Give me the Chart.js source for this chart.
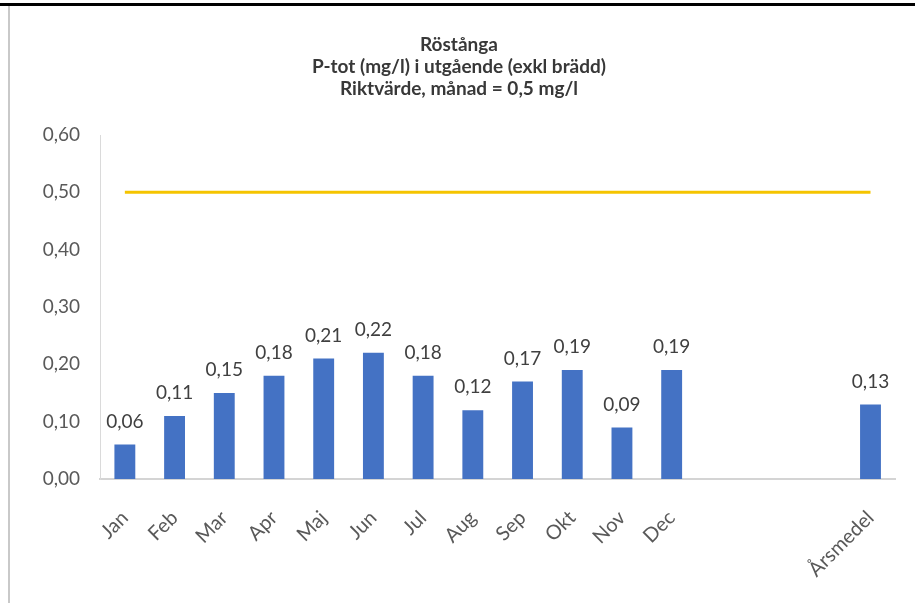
<!DOCTYPE html>
<html lang="sv">
<head>
<meta charset="utf-8">
<title>Röstånga – P-tot i utgående</title>
<script src="https://cdn.jsdelivr.net/npm/chart.js@4/dist/chart.umd.min.js"></script>
<style>
  html, body { margin: 0; padding: 0; background: #fff; }
  #wrap { position: relative; width: 915px; height: 603px; overflow: hidden; }
  #frameTop { position: absolute; left: 0; top: 3px; width: 915px; height: 3px; background: #000; }
  #frameLeft { position: absolute; left: 8px; top: 6px; width: 2px; height: 597px; background: #c9c9c9; }
  canvas { position: absolute; left: 0; top: 0; }
</style>
</head>
<body>
<div id="wrap">
  <canvas id="chart" width="915" height="603"></canvas>
  <div id="frameTop"></div>
  <div id="frameLeft"></div>
</div>
<script>
// Months, three empty slots, then the yearly mean
const categories = ['Jan', 'Feb', 'Mar', 'Apr', 'Maj', 'Jun', 'Jul', 'Aug', 'Sep', 'Okt', 'Nov', 'Dec', '', '', '', 'Årsmedel'];

// Monthly P-tot (mg/l) in outgoing water, plus the annual mean
const ptotValues = [0.06, 0.11, 0.15, 0.18, 0.21, 0.22, 0.18, 0.12, 0.17, 0.19, 0.09, 0.19, null, null, null, 0.13];

// Guideline value per month (0,5 mg/l)
const guideline = [0.5, 0.5, 0.5, 0.5, 0.5, 0.5, 0.5, 0.5, 0.5, 0.5, 0.5, 0.5, 0.5, 0.5, 0.5, 0.5];

// Y axis ticks
const yTicks = [0, 0.1, 0.2, 0.3, 0.4, 0.5, 0.6];

const titleLines = ['Röstånga', 'P-tot (mg/l) i utgående (exkl brädd)', 'Riktvärde, månad = 0,5 mg/l'];

const fmt = v => v.toFixed(2).replace('.', ',');

const FONT = 'Lato, "Liberation Sans", sans-serif';

// Writes the value above every bar
const barValueLabels = {
  id: 'barValueLabels',
  afterDatasetsDraw(chart) {
    const ctx = chart.ctx;
    const meta = chart.getDatasetMeta(0);
    ctx.save();
    ctx.font = '19px ' + FONT;
    ctx.fillStyle = '#404040';
    ctx.textAlign = 'center';
    ctx.textBaseline = 'middle';
    meta.data.forEach((el, i) => {
      const v = ptotValues[i];
      if (v === null || v === undefined) return;
      ctx.fillText(fmt(v), el.x, el.y - 23);
    });
    ctx.restore();
  }
};

new Chart(document.getElementById('chart'), {
  data: {
    labels: categories,
    datasets: [
      {
        type: 'bar',
        label: 'P-tot',
        data: ptotValues,
        backgroundColor: '#4472C4',
        borderWidth: 0,
        barPercentage: 0.42,
        categoryPercentage: 1.0,
        order: 2
      },
      {
        type: 'line',
        label: 'Riktvärde',
        data: guideline,
        borderColor: '#F5C400',
        borderWidth: 3,
        pointRadius: 0,
        fill: false,
        tension: 0,
        order: 1
      }
    ]
  },
  options: {
    responsive: false,
    animation: false,
    layout: { padding: { left: 20, right: 17, top: 0, bottom: 0 } },
    plugins: {
      legend: { display: false },
      tooltip: { enabled: false },
      title: {
        display: true,
        text: titleLines,
        color: '#383838',
        font: { family: FONT, size: 19, weight: 'bold', lineHeight: 22 / 19 },
        padding: { top: 34, bottom: 35 }
      }
    },
    scales: {
      x: {
        grid: { display: false, drawTicks: false },
        border: { display: true, color: '#d4d4d4', width: 2 },
        ticks: {
          color: '#595959',
          font: { family: FONT, size: 20 },
          minRotation: 45,
          maxRotation: 45,
          autoSkip: false,
          padding: 27
        },
        afterFit(scale) { scale.height = 124; }
      },
      y: {
        min: 0,
        max: 0.6,
        afterBuildTicks(scale) { scale.ticks = yTicks.map(v => ({ value: v })); },
        grid: { display: false, drawTicks: false },
        border: { display: true, color: '#dadada', width: 1 },
        ticks: {
          color: '#595959',
          font: { family: FONT, size: 19 },
          padding: 20,
          callback: v => fmt(v)
        },
        afterFit(scale) { scale.width = 80; }
      }
    }
  },
  plugins: [barValueLabels]
});
</script>
</body>
</html>
